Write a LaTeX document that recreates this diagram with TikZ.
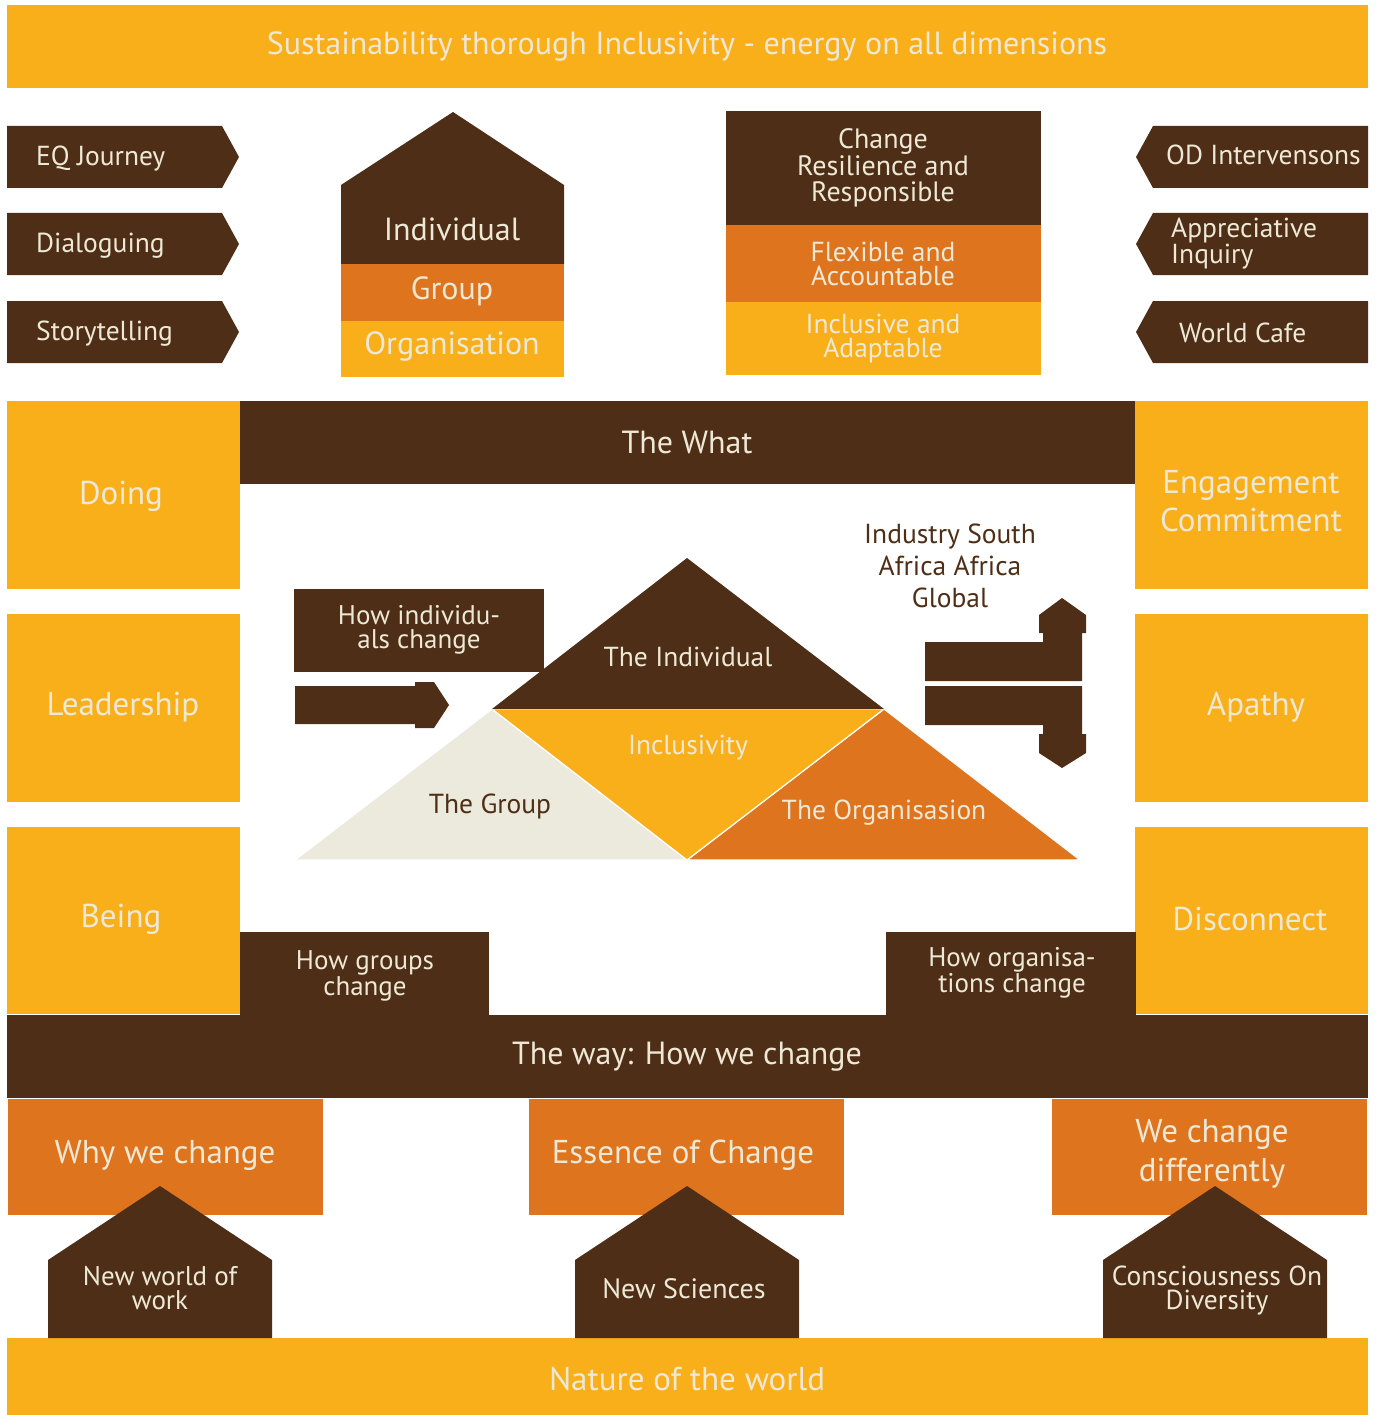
\documentclass[tikz,border=0pt]{standalone}
\usepackage{fontspec}
\setmainfont{PT Sans}
\definecolor{brn}{HTML}{4E2E16}
\definecolor{yel}{HTML}{F9AF1A}
\definecolor{org}{HTML}{DE741E}
\definecolor{cream}{HTML}{EEE9D6}
\definecolor{pale}{HTML}{ECEADC}
\begin{document}
\begin{tikzpicture}[x=1pt,y=-1pt,
  lt/.style={text=cream, align=center, inner sep=0pt},
  dk/.style={text=brn, align=center, inner sep=0pt},
  fxl/.style={font=\fontsize{33}{38}\selectfont},
  fl/.style={font=\fontsize{32}{36}\selectfont},
  fm/.style={font=\fontsize{27.5}{26}\selectfont},
  fs/.style={font=\fontsize{27}{24}\selectfont},
  fsw/.style={font=\fontsize{27.5}{32}\selectfont}]
\useasboundingbox (0,0) rectangle (1375,1415);

% title banner
\fill[yel] (7,5) rectangle (1368,88);
\node[lt,fl] (title) at (687,47) {Sustainability thorough Inclusivity - energy on all dimensions};

% method tags, left
\foreach \yc/\nm/\tx in {157/eq/EQ Journey, 244/dia/Dialoguing, 332/story/Storytelling}{
  \fill[brn] (7,\yc-31) -- (222,\yc-31) -- (239,\yc) -- (222,\yc+31) -- (7,\yc+31) -- cycle;
  \node[lt,fm,anchor=west] (\nm) at (36,\yc+1.5) {\tx};
}
% method tags, right
\foreach \yc in {157,244,332}{
  \fill[brn] (1368,\yc-31) -- (1153,\yc-31) -- (1136,\yc) -- (1153,\yc+31) -- (1368,\yc+31) -- cycle;
}
\node[lt,fm,anchor=west] (od) at (1166,155) {OD Intervensons};
\node[lt,font=\fontsize{27.5}{24}\selectfont,anchor=west,align=left] (ai) at (1171,244) {Appreciative\\Inquiry};
\node[lt,fm,anchor=west] (cafe) at (1179,333) {World Cafe};

% levels house
\fill[brn] (341,264) -- (341,185) -- (453,112) -- (564,185) -- (564,264) -- cycle;
\fill[org] (341,264) rectangle (564,321);
\fill[yel] (341,321) rectangle (564,377);
\node[lt,fl] (indiv) at (452,229) {Individual};
\node[lt,fl] (group) at (452,291) {Group};
\node[lt,fl] (orgn) at (452,346) {Organisation};

% qualities stack
\fill[brn] (726,111) rectangle (1041,225);
\fill[org] (726,225) rectangle (1041,302);
\fill[yel] (726,302) rectangle (1041,375);
\node[lt,font=\fontsize{28}{26.5}\selectfont] (resil) at (883,168) {Change\\Resilience and\\Responsible};
\node[lt,font=\fontsize{27.5}{24}\selectfont] (flex) at (883,264) {Flexible and\\Accountable};
\node[lt,font=\fontsize{27.5}{24}\selectfont] (incl) at (883,339) {Inclusive and\\Adaptable};

% the what
\fill[brn] (240,401) rectangle (1135,484);
\node[lt,fl] (what) at (687,442) {The What};

% side boxes
\fill[yel] (7,401) rectangle (240,589);
\fill[yel] (7,614) rectangle (240,802);
\fill[yel] (7,827) rectangle (240,1014);
\fill[yel] (1135,401) rectangle (1368,589);
\fill[yel] (1135,614) rectangle (1368,802);
\fill[yel] (1135,827) rectangle (1368,1014);
\node[lt,fxl] (doing) at (121,496) {Doing};
\node[lt,fxl] (lead) at (123,707) {Leadership};
\node[lt,fxl] (being) at (121,919) {Being};
\node[lt,fxl] (engage) at (1251,501) {Engagement\\Commitment};
\node[lt,fxl] (apathy) at (1256,707) {Apathy};
\node[lt,fxl] (disc) at (1250,919) {Disconnect};

% change boxes
\fill[brn] (294,589) rectangle (544,672);
\node[lt,fs] (hic) at (419,630) {How individu-\\als change};
\fill[brn] (240,932) rectangle (489,1015);
\node[lt,fs] (hgc) at (365,976) {How groups\\change};
\fill[brn] (886,932) rectangle (1136,1015);
\node[lt,fs] (hoc) at (1012,973) {How organisa-\\tions change};

% arrow into the pyramid
\fill[brn] (295,686) -- (415,686) -- (415,682) -- (434,682) -- (449,705) -- (434,728) -- (415,728) -- (415,724) -- (295,724) -- cycle;

% arrows out to industry
\fill[brn] (925,642) -- (1043,642) -- (1043,633) -- (1039,633) -- (1039,615) -- (1062,598) -- (1086,615) -- (1086,633) -- (1082,633) -- (1082,681) -- (925,681) -- cycle;
\fill[brn] (925,686) -- (1082,686) -- (1082,734) -- (1086,734) -- (1086,753) -- (1062,768) -- (1039,753) -- (1039,734) -- (1043,734) -- (1043,725) -- (925,725) -- cycle;
\node[dk,fsw] (industry) at (950,566) {Industry South\\Africa Africa\\Global};

% pyramid
\fill[pale,draw=white,line width=1.2pt] (295,860) -- (492,709) -- (687,860) -- cycle;
\fill[org,draw=white,line width=1.2pt] (687,860) -- (884,709) -- (1080,860) -- cycle;
\fill[yel,draw=white,line width=1.2pt] (492,709) -- (884,709) -- (687,860) -- cycle;
\fill[brn] (492,709) -- (687,558) -- (884,709) -- cycle;
\node[lt,fm] (tind) at (688,657) {The Individual};
\node[lt,fm] (tincl) at (688,748) {Inclusivity};
\node[dk,fm] (tgrp) at (490,806) {The Group};
\node[lt,fm] (torg) at (884,813) {The Organisasion};

% the way
\fill[brn] (7,1015) rectangle (1368,1098);
\node[lt,fl] (way) at (687,1057) {The way: How we change};

% reasons
\fill[org] (8,1099) rectangle (323,1215);
\fill[org] (529,1099) rectangle (844,1215);
\fill[org] (1052,1099) rectangle (1367,1215);
\node[lt,fxl] (why) at (165,1155) {Why we change};
\node[lt,fxl] (essence) at (683,1155) {Essence of Change};
\node[lt,font=\fontsize{33}{39}\selectfont] (diff) at (1212,1154) {We change\\differently};

% foundations
\fill[yel] (7,1338) rectangle (1368,1415);
\node[lt,fxl] (nature) at (687,1379) {Nature of the world};
\foreach \xc in {160,687,1215}{
  \fill[brn] (\xc-112,1338) -- (\xc-112,1260) -- (\xc,1186) -- (\xc+112,1260) -- (\xc+112,1338) -- cycle;
}
\node[lt,font=\fontsize{27}{24}\selectfont] (nww) at (160,1288) {New world of\\work};
\node[lt,font=\fontsize{28}{24}\selectfont] (nsci) at (684,1289) {New Sciences};
\node[lt,font=\fontsize{27.5}{24}\selectfont] (cod) at (1217,1291) {Consciousness On\\Diversity};
\end{tikzpicture}
\end{document}
